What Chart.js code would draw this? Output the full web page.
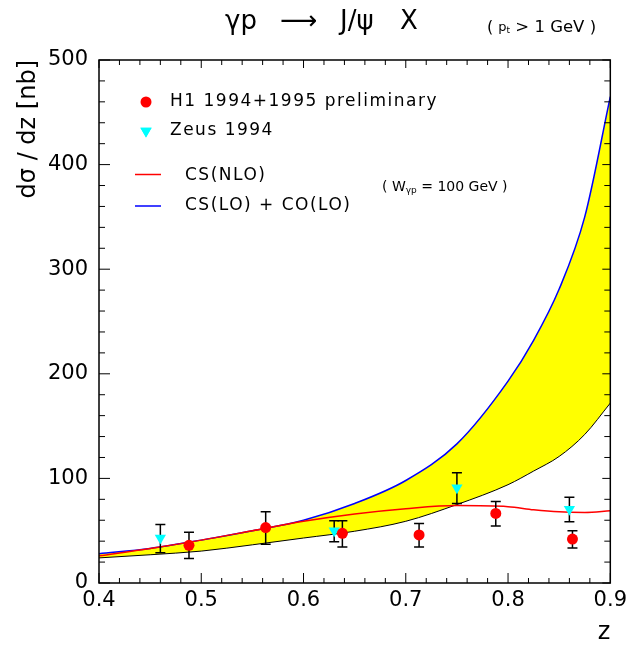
<!DOCTYPE html>
<html lang="en">
<head>
<meta charset="UTF-8">
<title>gamma p -> J/psi X</title>
<script src="https://cdn.jsdelivr.net/npm/chart.js"></script>
<style>
  html, body { margin: 0; padding: 0; background: #fff; }
</style>
</head>
<body>
<canvas id="chart" width="632" height="645"></canvas>
<script>
// theory curves, sampled in z
const curveZ  = [0.40, 0.45, 0.50, 0.55, 0.60, 0.65, 0.70, 0.75, 0.80, 0.825, 0.85, 0.875, 0.90];
const coUpper = [28, 33, 41, 50, 60, 76, 98, 133, 193, 232, 281, 350, 465];     // CS(LO) + CO(LO)
const coLower = [24, 27, 30.5, 36.5, 43, 49.5, 59, 75, 94, 107, 121, 142, 172]; // lower edge of band
const csNLO   = [26, 33, 41, 50, 59, 66, 71, 74, 73, 70, 68, 67.5, 69];         // CS(NLO)

// H1 1994+1995 preliminary
const h1Z  = [0.488, 0.563, 0.638, 0.713, 0.788, 0.863];
const h1Y  = [36, 53, 47.5, 46, 66.5, 42];
const h1Lo = [23.5, 37, 34.5, 34.5, 54.5, 33.5];
const h1Hi = [48.5, 68, 59.5, 57, 78, 50];

// Zeus 1994
const zeusZ  = [0.460, 0.630, 0.750, 0.860];
const zeusY  = [43, 50, 91, 70.5];
const zeusLo = [29, 39.5, 76, 58.5];
const zeusHi = [56, 59.5, 105.5, 82];

const xTicks = [0.4, 0.5, 0.6, 0.7, 0.8, 0.9];
const yTicks = [0, 100, 200, 300, 400, 500];

const pts = (xs, ys) => xs.map((x, i) => ({ x: x, y: ys[i] }));

Chart.defaults.font.family = 'DejaVu Sans';
Chart.defaults.color = '#000';

// error bars, drawn just before their markers
const errorBars = {
  id: 'errorBars',
  beforeDatasetDraw(chart, args) {
    const ds = chart.data.datasets[args.index];
    if (!ds.errLo) return;
    const { ctx, scales: { x, y } } = chart;
    ctx.save();
    ctx.strokeStyle = '#000';
    ctx.lineWidth = 1.5;
    ds.data.forEach((p, i) => {
      const px = x.getPixelForValue(p.x);
      const lo = y.getPixelForValue(ds.errLo[i]);
      const hi = y.getPixelForValue(ds.errHi[i]);
      ctx.beginPath();
      ctx.moveTo(px, lo); ctx.lineTo(px, hi);
      ctx.moveTo(px - 5, lo); ctx.lineTo(px + 5, lo);
      ctx.moveTo(px - 5, hi); ctx.lineTo(px + 5, hi);
      ctx.stroke();
    });
    ctx.restore();
  }
};

// box with inward ticks on all four sides
const frame = {
  id: 'frame',
  afterDatasetsDraw(chart) {
    const { ctx, chartArea: a, scales: { x, y } } = chart;
    ctx.save();
    ctx.strokeStyle = '#000';
    ctx.lineWidth = 1.5;
    ctx.strokeRect(a.left, a.top, a.right - a.left, a.bottom - a.top);
    ctx.lineWidth = 1;
    ctx.beginPath();
    for (let i = 0; i <= 25; i++) {
      const px = x.getPixelForValue(0.4 + i * 0.02);
      const big = i % 5 === 0;
      ctx.moveTo(px, a.bottom); ctx.lineTo(px, a.bottom - (big ? 10 : 5));
      ctx.moveTo(px, a.top); ctx.lineTo(px, a.top + (big ? 8 : 5));
    }
    for (let i = 0; i <= 25; i++) {
      const py = y.getPixelForValue(i * 20);
      const big = i % 5 === 0;
      ctx.moveTo(a.left, py); ctx.lineTo(a.left + (big ? 11 : 6), py);
      ctx.moveTo(a.right, py); ctx.lineTo(a.right - (big ? 8 : 6), py);
    }
    ctx.stroke();
    ctx.restore();
  }
};

// writes a run of [text, size, dy] pieces one after another
function textRun(ctx, x, y, parts) {
  parts.forEach(([t, size, dy]) => {
    ctx.font = size + 'px "DejaVu Sans"';
    ctx.fillText(t, x, y + (dy || 0));
    x += ctx.measureText(t).width;
  });
}

// title, legend and note
const labels = {
  id: 'labels',
  afterDraw(chart) {
    const ctx = chart.ctx;
    ctx.save();
    ctx.fillStyle = '#000';
    ctx.textBaseline = 'middle';
    ctx.textAlign = 'left';

    ctx.font = '26px "DejaVu Sans"';
    ctx.fillText('γp', 225, 22);
    ctx.fillText('⟶', 280, 22);
    ctx.fillText('J/ψ', 340, 22);
    ctx.fillText('X', 400, 22);

    textRun(ctx, 487, 28, [['( ', 16], ['p', 13], ['t', 9, 3], [' > 1 GeV )', 16.5]]);
    textRun(ctx, 382, 187, [['( W', 14], ['γp', 9, 4], [' = 100 GeV )', 14]]);

    // legend
    ctx.fillStyle = '#ff0000';
    ctx.beginPath(); ctx.arc(146, 102, 5.5, 0, Math.PI * 2); ctx.fill();
    ctx.fillStyle = '#00ffff';
    ctx.beginPath();
    Chart.helpers.drawPoint(ctx, { pointStyle: 'triangle', rotation: 180, radius: 6.5, borderWidth: 0 }, 146, 131);
    ctx.fill();
    ctx.lineWidth = 1.5;
    ctx.strokeStyle = '#ff0000';
    ctx.beginPath(); ctx.moveTo(135, 174.5); ctx.lineTo(161, 174.5); ctx.stroke();
    ctx.strokeStyle = '#0000ff';
    ctx.beginPath(); ctx.moveTo(135, 206); ctx.lineTo(161, 206); ctx.stroke();

    ctx.fillStyle = '#000';
    ctx.font = '17px "DejaVu Sans"';
    ctx.letterSpacing = '1.5px';
    ctx.fillText('H1 1994+1995 preliminary', 170, 102);
    ctx.fillText('Zeus 1994', 170, 131);
    ctx.fillText('CS(NLO)', 185, 176);
    ctx.fillText('CS(LO) + CO(LO)', 185, 206);
    ctx.restore();
  }
};

new Chart(document.getElementById('chart'), {
  type: 'line',
  data: {
    datasets: [
      {
        label: 'H1 1994+1995 preliminary',
        data: pts(h1Z, h1Y),
        errLo: h1Lo, errHi: h1Hi,
        showLine: false,
        pointStyle: 'circle', pointRadius: 5.5, pointBorderWidth: 0,
        pointBackgroundColor: '#ff0000',
        order: 0
      },
      {
        label: 'Zeus 1994',
        data: pts(zeusZ, zeusY),
        errLo: zeusLo, errHi: zeusHi,
        showLine: false,
        pointStyle: 'triangle', rotation: 180, pointRadius: 6.5, pointBorderWidth: 0,
        pointBackgroundColor: '#00ffff',
        order: 1
      },
      {
        label: 'CS(NLO)',
        data: pts(curveZ, csNLO),
        borderColor: '#ff0000', borderWidth: 1.5,
        pointRadius: 0, cubicInterpolationMode: 'monotone', fill: false,
        order: 2
      },
      {
        label: 'CS(LO) + CO(LO)',
        data: pts(curveZ, coUpper),
        borderColor: '#0000ff', borderWidth: 1.5,
        pointRadius: 0, cubicInterpolationMode: 'monotone', fill: false,
        order: 3
      },
      {
        label: 'band',
        data: pts(curveZ, coLower),
        borderColor: '#000', borderWidth: 1,
        backgroundColor: '#ffff00',
        pointRadius: 0, cubicInterpolationMode: 'monotone', fill: '-1',
        order: 4
      }
    ]
  },
  options: {
    responsive: false,
    animation: false,
    devicePixelRatio: 1,
    layout: { padding: { left: 0, right: 19, top: 60, bottom: 0 } },
    plugins: { legend: { display: false }, tooltip: { enabled: false } },
    scales: {
      x: {
        type: 'linear', min: 0.4, max: 0.9,
        afterFit: s => { s.height = 62; },
        afterBuildTicks: s => { s.ticks = xTicks.map(v => ({ value: v })); },
        ticks: { font: { size: 21 }, padding: 5, callback: v => v.toFixed(1) },
        grid: { display: false, drawTicks: false },
        border: { display: false },
        title: { display: true, text: 'z', align: 'end', font: { size: 24, lineHeight: 1 }, padding: 0 }
      },
      y: {
        min: 0, max: 500,
        afterFit: s => { s.width = 99; },
        afterBuildTicks: s => { s.ticks = yTicks.map(v => ({ value: v })); },
        ticks: { font: { size: 21 }, padding: 11 },
        grid: { display: false, drawTicks: false },
        border: { display: false },
        title: { display: true, text: 'dσ / dz [nb]', align: 'end', font: { size: 24 }, padding: { top: 14 } }
      }
    }
  },
  plugins: [errorBars, frame, labels]
});
</script>
</body>
</html>
